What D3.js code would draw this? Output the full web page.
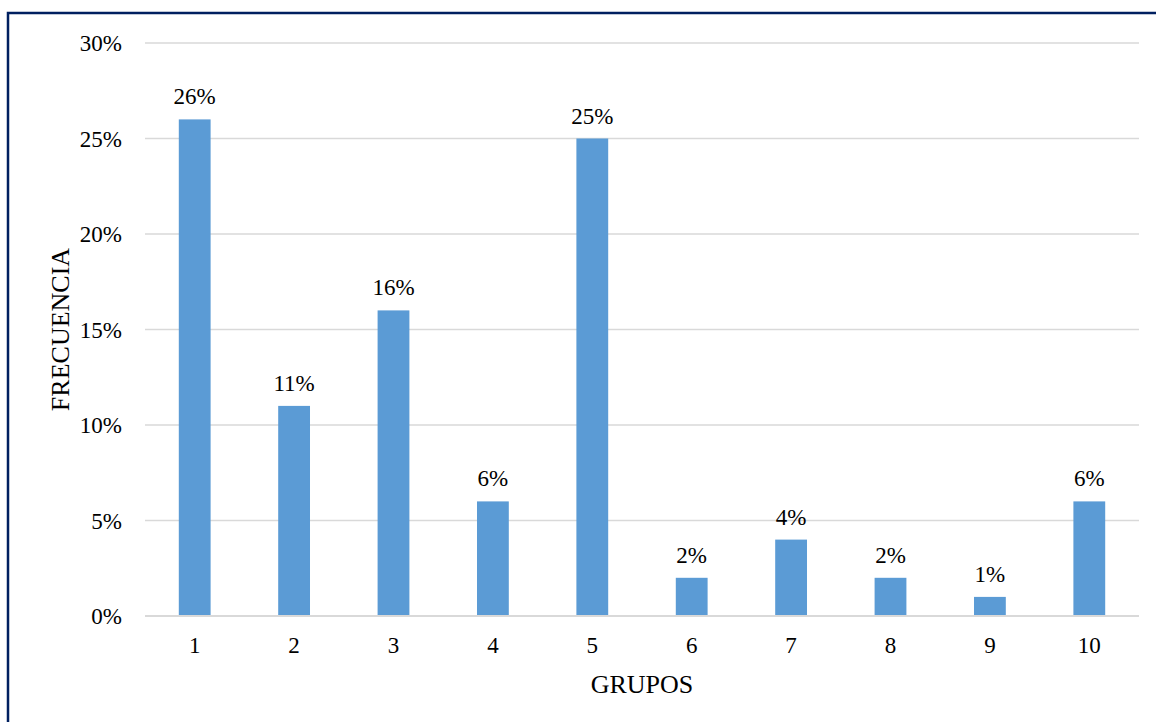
<!DOCTYPE html>
<html>
<head>
<meta charset="utf-8">
<script src="https://cdn.jsdelivr.net/npm/d3@7"></script>
<style>
    body { margin: 0; background: #fff; }
    text { font-family: "Liberation Serif", "DejaVu Serif", serif; fill: #000; }
</style>
</head>
<body>
<div id="chart"></div>
<script>
let grupos = ["1", "2", "3", "4", "5", "6", "7", "8", "9", "10"];
let frecuencia = [26, 11, 16, 6, 25, 2, 4, 2, 1, 6];
let yTicks = [0, 5, 10, 15, 20, 25, 30];

let width = 1156;
let height = 722;
let margin = { left: 145, right: 17, top: 43, bottom: 106 };

let svg = d3.select("#chart").append("svg")
    .attr("width", width)
    .attr("height", height);

// outer frame
svg.append("rect")
    .attr("x", 8)
    .attr("y", 13)
    .attr("width", width + 20)
    .attr("height", height + 20)
    .attr("fill", "none")
    .attr("stroke", "#002060")
    .attr("stroke-width", 2.5);

let x = d3.scaleBand()
    .domain(grupos)
    .range([margin.left, width - margin.right])
    .paddingInner(0.68)
    .paddingOuter(0.34);

let y = d3.scaleLinear()
    .domain([0, 30])
    .range([height - margin.bottom, margin.top]);

// gridlines
svg.append("g")
    .selectAll("line")
    .data(yTicks)
    .join("line")
    .attr("x1", margin.left)
    .attr("x2", width - margin.right)
    .attr("y1", d => y(d))
    .attr("y2", d => y(d))
    .style("stroke", "#d9d9d9")
    .style("stroke-width", 1.3);

// y tick labels
svg.append("g")
    .selectAll("text")
    .data(yTicks)
    .join("text")
    .attr("x", 122)
    .attr("y", d => y(d))
    .attr("dy", "0.35em")
    .attr("text-anchor", "end")
    .style("font-size", "23px")
    .text(d => d + "%");

// bars
svg.append("g")
    .selectAll("rect")
    .data(frecuencia)
    .join("rect")
    .attr("x", (d, i) => x(grupos[i]))
    .attr("y", d => y(d))
    .attr("width", x.bandwidth())
    .attr("height", d => y(0) - y(d))
    .attr("fill", "#5b9bd5");

// data labels
svg.append("g")
    .selectAll("text")
    .data(frecuencia)
    .join("text")
    .attr("x", (d, i) => x(grupos[i]) + x.bandwidth() / 2)
    .attr("y", d => y(d) - 15)
    .attr("text-anchor", "middle")
    .style("font-size", "23px")
    .text(d => d + "%");

// baseline
svg.append("line")
    .attr("x1", margin.left)
    .attr("x2", width - margin.right)
    .attr("y1", y(0))
    .attr("y2", y(0))
    .style("stroke", "#d9d9d9")
    .style("stroke-width", 2);

// x tick labels
svg.append("g")
    .selectAll("text")
    .data(grupos)
    .join("text")
    .attr("x", d => x(d) + x.bandwidth() / 2)
    .attr("y", y(0) + 37)
    .attr("text-anchor", "middle")
    .style("font-size", "23px")
    .text(d => d);

// axis titles
svg.append("text")
    .attr("x", (margin.left + width - margin.right) / 2)
    .attr("y", 693)
    .attr("text-anchor", "middle")
    .style("font-size", "26px")
    .text("GRUPOS");

svg.append("text")
    .attr("transform", "translate(69," + (y(15)) + ") rotate(-90)")
    .attr("text-anchor", "middle")
    .style("font-size", "26px")
    .text("FRECUENCIA");
</script>
</body>
</html>
